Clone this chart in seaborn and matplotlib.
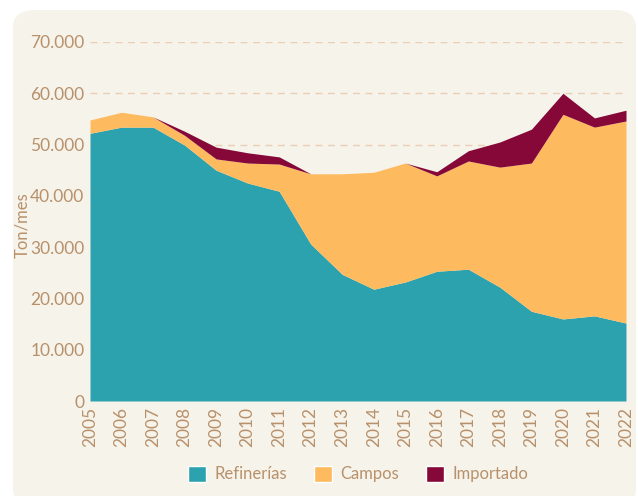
import matplotlib
matplotlib.use("Agg")
import matplotlib.pyplot as plt
import seaborn as sns
from matplotlib.patches import FancyBboxPatch, Patch
from matplotlib.ticker import FuncFormatter

# datos (Ton/mes)
years = list(range(2005, 2023))
refinerias = [52200, 53400, 53400, 49900, 45000, 42500, 40900, 30600, 24700,
              21800, 23200, 25300, 25700, 22200, 17500, 16000, 16600, 15200]
campos = [2600, 2900, 2000, 1900, 2200, 3900, 5300, 13700, 19600,
          22800, 23200, 18600, 21100, 23400, 28900, 39900, 36800, 39400]
importado = [0, 0, 0, 800, 2300, 2000, 1400, 0, 0,
             0, 0, 800, 2000, 4900, 6600, 4100, 1800, 2100]
series = ["Refinerías", "Campos", "Importado"]
colores = ["#2CA2AE", "#FEBA5E", "#850838"]

sns.set_style("white")
plt.rcParams["font.family"] = ["Lato", "DejaVu Sans"]
txt = "#B8916B"
bg = "#F6F3EB"

fig = plt.figure(figsize=(6.38, 4.96), dpi=100)
fig.patch.set_facecolor("white")

# fondo redondeado
W, H = 638, 496
caja = FancyBboxPatch((13 / W, -10 / H), 623 / W, 496 / H,
                      boxstyle="round,pad=0,rounding_size=0.035",
                      transform=fig.transFigure, facecolor=bg, edgecolor="none",
                      zorder=-5)
fig.patches.append(caja)

ax = fig.add_axes([90 / W, 1 - 401 / H, 536 / W, (401 - 42) / H])
ax.set_facecolor("none")
ax.set_zorder(2)

ax.stackplot(years, refinerias, campos, importado, colors=colores,
             labels=series, zorder=2, linewidth=0)

ax.set_xlim(2005, 2022)
ax.set_ylim(0, 70000)
ax.set_yticks(range(0, 70001, 10000))
ax.yaxis.set_major_formatter(FuncFormatter(lambda v, p: f"{int(v):,}".replace(",", ".")))
ax.set_xticks(years)
ax.set_xticklabels([str(y) for y in years], rotation=90)
ax.tick_params(axis="both", colors=txt, labelsize=12.5, length=0, pad=4)

for y in range(10000, 70001, 10000):
    ax.axhline(y, color="#EBCFB5", linestyle=(0, (5, 4)), linewidth=1, zorder=1)

for s in ax.spines.values():
    s.set_visible(False)

ax.set_ylabel("Ton/mes", color=txt, fontsize=12)
ax.yaxis.set_label_coords(-60 / 536, 0.49)

handles = [Patch(facecolor=c, label=l) for c, l in zip(colores, series)]
leg = fig.legend(handles=handles, loc="center", bbox_to_anchor=(358 / W, 1 - 474 / H),
                 ncol=3, frameon=False, fontsize=12, handlelength=1.1,
                 handleheight=1.1, columnspacing=1.6, handletextpad=0.5)
for t in leg.get_texts():
    t.set_color(txt)

fig.savefig("out.png", dpi=100)
